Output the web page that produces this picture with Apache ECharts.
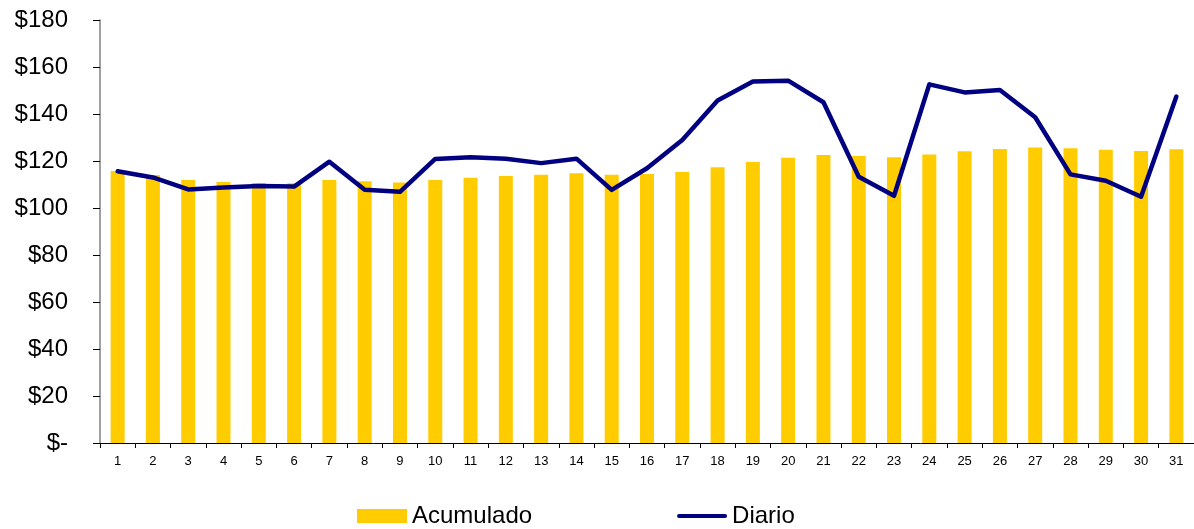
<!DOCTYPE html>
<html>
<head>
<meta charset="utf-8">
<script src="https://cdn.jsdelivr.net/npm/echarts@6/dist/echarts.min.js"></script>
<style>
html,body{margin:0;padding:0;background:#fff;}
#chart{width:1194px;height:529px;}
</style>
</head>
<body>
<div id="chart"></div>
<script>
const days = ['1','2','3','4','5','6','7','8','9','10','11','12','13','14','15','16','17','18','19','20','21','22','23','24','25','26','27','28','29','30','31'];
const acumulado = [115.7,114.0,111.9,111.1,110.6,110.5,111.9,111.4,110.9,111.9,112.9,113.6,114.2,114.8,114.2,114.5,115.3,117.3,119.6,121.4,122.6,122.1,121.6,122.8,124.1,125.1,125.7,125.4,124.8,124.3,125.0];
const diario = [115.6,113.0,107.9,108.7,109.4,109.1,119.7,107.8,106.9,120.9,121.6,121.0,119.1,121.0,107.7,116.9,128.9,145.7,153.8,154.2,145.0,113.3,105.2,152.6,149.2,150.2,138.6,114.3,111.6,104.8,147.4];
const yTicks = [0,20,40,60,80,100,120,140,160,180];

const chart = echarts.init(document.getElementById('chart'), null, {renderer:'canvas'});
const font = '"Liberation Sans", Arial, sans-serif';
chart.setOption({
  animation:false,
  backgroundColor:'#ffffff',
  grid:{left:100, top:20, width:1097, height:423, containLabel:false},
  legend:{
    left:352, top:499, itemWidth:50, itemHeight:14, itemGap:145,
    textStyle:{fontFamily:font, fontSize:24, color:'#000'},
    data:[
      {name:'Acumulado', icon:'rect'},
      {name:'Diario', icon:'path://M2,0 h46 a2,2 0 0 1 0,4 h-46 a2,2 0 0 1 0,-4 z'}
    ]
  },
  xAxis:{
    type:'category', data:days, boundaryGap:true,
    axisLine:{lineStyle:{color:'#000', width:1}},
    axisTick:{show:true, alignWithLabel:false, length:5, lineStyle:{color:'#000'}},
    axisLabel:{fontFamily:font, fontSize:13, color:'#000', margin:12, interval:0},
    splitLine:{show:false}
  },
  yAxis:{
    type:'value', min:yTicks[0], max:yTicks[yTicks.length-1], interval:20,
    axisLine:{show:true, lineStyle:{color:'#808080', width:1.5}},
    axisTick:{show:true, length:7, lineStyle:{color:'#000'}},
    axisLabel:{fontFamily:font, fontSize:24, color:'#000', margin:32,
      formatter:function(v){return v===0 ? '$-' : '$'+v;}},
    splitLine:{show:false}
  },
  series:[
    {name:'Acumulado', type:'bar', data:acumulado, barWidth:14,
     itemStyle:{color:'#FFCC00'}, z:1},
    {name:'Diario', type:'line', data:diario, symbol:'none', smooth:false,
     lineStyle:{color:'#000080', width:4.5, cap:'round', join:'round'},
     itemStyle:{color:'#000080'}, z:3}
  ]
});
</script>
</body>
</html>
